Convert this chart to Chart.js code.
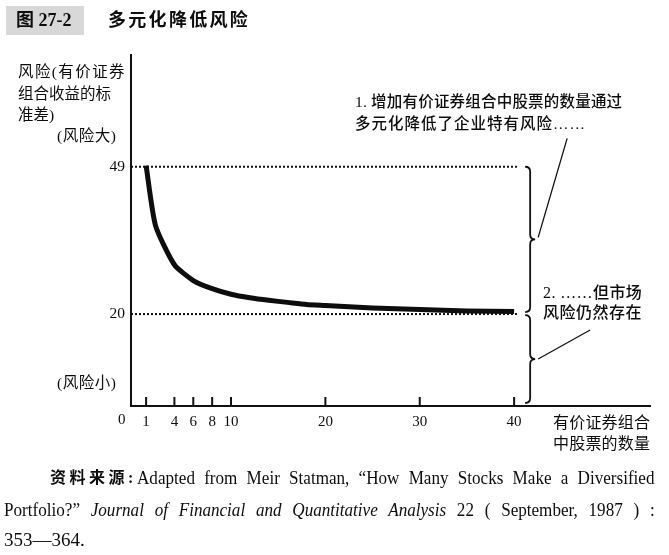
<!DOCTYPE html>
<html>
<head>
<meta charset="utf-8">
<script src="https://cdn.jsdelivr.net/npm/chart.js@4/dist/chart.umd.min.js"></script>
<style>
html,body{margin:0;padding:0;background:#fff;}
#wrap{position:relative;width:669px;height:555px;overflow:hidden;background:#fff;}
#c{position:absolute;left:0;top:0;}
.t{position:absolute;white-space:nowrap;color:#0d0d0d;line-height:1;
   font-family:"Liberation Serif","Noto Sans CJK SC",serif;}
.m{font-weight:500;}
.box{position:absolute;left:6px;top:6px;width:78px;height:29px;background:#d8d8d8;}
.en{position:absolute;white-space:nowrap;color:#0d0d0d;line-height:1;font-size:19px;
   font-family:"Liberation Serif",serif;text-align:justify;text-align-last:justify;
   transform:scaleX(0.9);transform-origin:0 0;}
.en i{font-style:italic;}
</style>
</head>
<body>
<div id="wrap">
  <canvas id="c" width="669" height="555"></canvas>
  <div class="box"></div>
  <div class="t" style="left:16px;top:11px;font-size:18px;font-weight:bold;">图 27-2</div>
  <div class="t" style="left:108px;top:11px;font-size:18px;font-weight:bold;letter-spacing:2.3px;">多元化降低风险</div>

  <div class="t" style="left:18px;top:64px;font-size:15.5px;letter-spacing:1.4px;">风险(有价证券</div>
  <div class="t" style="left:18px;top:86px;font-size:15.5px;">组合收益的标</div>
  <div class="t" style="left:18px;top:107px;font-size:15.5px;">准差)</div>
  <div class="t" style="left:57px;top:128px;font-size:15.5px;letter-spacing:0.5px;">(风险大)</div>
  <div class="t" style="left:57px;top:375px;font-size:15.5px;letter-spacing:0.5px;">(风险小)</div>

  <div class="t m" style="left:355px;top:94px;font-size:15.5px;letter-spacing:0.2px;">1. 增加有价证券组合中股票的数量通过</div>
  <div class="t m" style="left:355px;top:116px;font-size:15.5px;letter-spacing:1px;">多元化降低了企业特有风险……</div>

  <div class="t m" style="left:543px;top:285px;font-size:16px;letter-spacing:0.4px;">2. ……但市场</div>
  <div class="t m" style="left:543px;top:305px;font-size:16px;letter-spacing:0.5px;">风险仍然存在</div>

  <div class="t" style="left:553px;top:415px;font-size:16px;letter-spacing:0.2px;">有价证券组合</div>
  <div class="t" style="left:553px;top:436px;font-size:16px;letter-spacing:0.2px;">中股票的数量</div>

  <div class="t" style="left:50px;top:470px;font-size:16px;font-weight:bold;letter-spacing:3.5px;">资料来源:</div>
  <div class="en" style="left:137px;top:468px;width:575px;">Adapted from Meir Statman, “How Many Stocks Make a Diversified</div>
  <div class="en" style="left:4px;top:500px;width:723px;">Portfolio?” <i>Journal of Financial and Quantitative Analysis</i> 22 ( September, 1987 ) :</div>
  <div class="t" style="left:4px;top:530px;font-size:19px;">353—364.</div>
</div>

<script>
// ---- data (Statman 1987) ----
const stockCounts = [1, 2, 4, 6, 8, 10, 12, 14, 16, 18, 20, 25, 30, 35, 40];
const riskStdDev  = [49.2, 37.4, 29.7, 26.6, 25.0, 23.9, 23.2, 22.7, 22.3, 21.9, 21.7, 21.2, 20.9, 20.6, 20.5];
const xTickValues = [0, 1, 4, 6, 8, 10, 20, 30, 40];
const yTickValues = [20, 49];
const refLevels   = [49, 20];     // total risk of one stock, market risk
const refLineEnd  = 40.3;
const braceAt     = 41.7;

const X_MIN = -0.6, X_MAX = 54.4, Y_MIN = 1.9, Y_MAX = 71;

const curveData = stockCounts.map((c, i) => ({ x: c, y: riskStdDev[i] }));

const datasets = [{
  data: curveData,
  borderColor: '#0d0d0d',
  borderWidth: 5,
  pointRadius: 0,
  tension: 0.2,
  borderJoinStyle: 'round',
  fill: false
}];
refLevels.forEach(lvl => {
  datasets.push({
    data: [{ x: X_MIN, y: lvl }, { x: refLineEnd, y: lvl }],
    borderColor: '#111',
    borderWidth: 2,
    borderDash: [2, 2],
    pointRadius: 0,
    fill: false
  });
});

function brace(ctx, x, yTop, yBot, w) {
  const yTip = (yTop + yBot) / 2;
  ctx.beginPath();
  ctx.moveTo(x - w, yTop);
  ctx.quadraticCurveTo(x, yTop, x, yTop + w);
  ctx.lineTo(x, yTip - w);
  ctx.quadraticCurveTo(x, yTip, x + w, yTip);
  ctx.quadraticCurveTo(x, yTip, x, yTip + w);
  ctx.lineTo(x, yBot - w);
  ctx.quadraticCurveTo(x, yBot, x - w, yBot);
  ctx.stroke();
  return yTip;
}

const decor = {
  id: 'decor',
  afterDatasetsDraw(chart) {
    const { ctx, chartArea, scales: { x, y } } = chart;
    ctx.save();
    ctx.strokeStyle = '#111';
    ctx.fillStyle = '#0d0d0d';
    ctx.lineWidth = 2;
    // upward tick marks on the x axis
    xTickValues.forEach(v => {
      if (v === 0) return;
      const px = x.getPixelForValue(v);
      ctx.beginPath();
      ctx.moveTo(px, chartArea.bottom);
      ctx.lineTo(px, chartArea.bottom - 9);
      ctx.stroke();
    });
    // "0" label sits left of the origin
    ctx.font = '15px "Liberation Serif"';
    ctx.textAlign = 'center';
    ctx.textBaseline = 'middle';
    ctx.fillText('0', x.getPixelForValue(0) - 15, chartArea.bottom + 14);

    // braces
    const bx = x.getPixelForValue(braceAt);
    const yHi = y.getPixelForValue(refLevels[0]);
    const yLo = y.getPixelForValue(refLevels[1]);
    ctx.lineWidth = 1.8;
    const tip1 = brace(ctx, bx, yHi, yLo - 2, 5);
    const tip2 = brace(ctx, bx, yLo + 1, chartArea.bottom - 3, 5);

    // pointer lines
    ctx.lineWidth = 1.3;
    ctx.beginPath();
    ctx.moveTo(bx + 8, tip1 - 2);
    ctx.lineTo(bx + 37, tip1 - 101);
    ctx.stroke();
    ctx.beginPath();
    ctx.moveTo(bx + 8, tip2);
    ctx.lineTo(bx + 60, tip2 - 29);
    ctx.stroke();
    ctx.restore();
  }
};

new Chart(document.getElementById('c'), {
  type: 'line',
  data: { datasets },
  options: {
    responsive: false,
    animation: false,
    layout: { padding: { top: 55, right: 19, left: 0, bottom: 0 } },
    plugins: { legend: { display: false }, tooltip: { enabled: false } },
    scales: {
      x: {
        type: 'linear',
        min: X_MIN, max: X_MAX,
        afterBuildTicks: s => { s.ticks = xTickValues.map(v => ({ value: v })); },
        afterFit: s => { s.height = 555 - 406; },
        ticks: {
          autoSkip: false, maxRotation: 0, padding: 7,
          color: '#0d0d0d',
          font: { family: 'Liberation Serif', size: 15 },
          callback: v => (v === 0 ? '' : String(v))
        },
        grid: { display: false, drawTicks: false },
        border: { display: true, color: '#111', width: 2 }
      },
      y: {
        type: 'linear',
        min: Y_MIN, max: Y_MAX,
        afterBuildTicks: s => { s.ticks = yTickValues.map(v => ({ value: v })); },
        afterFit: s => { s.width = 131; },
        ticks: {
          padding: 6,
          color: '#0d0d0d',
          font: { family: 'Liberation Serif', size: 15.5 }
        },
        grid: { display: false, drawTicks: false },
        border: { display: true, color: '#111', width: 2 }
      }
    }
  },
  plugins: [decor]
});
</script>
</body>
</html>
